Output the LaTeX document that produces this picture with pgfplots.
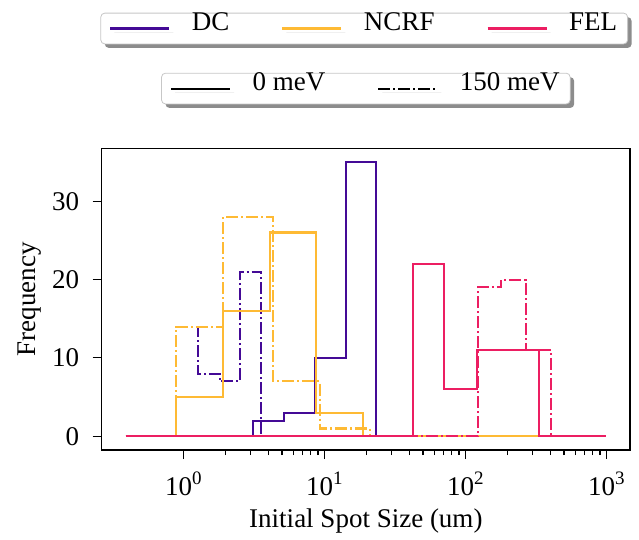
\documentclass[border=0pt]{standalone}
\usepackage{fontspec}
\setmainfont{Liberation Serif}
\usepackage{pgfplots}
\pgfplotsset{compat=1.18}

\definecolor{dccol}{RGB}{68,10,150}
\definecolor{ncrfcol}{RGB}{254,186,52}
\definecolor{felcol}{RGB}{236,30,98}

\newcommand{\dec}[1]{10\raisebox{0.42em}{\fontsize{19}{20}\selectfont #1}}

\pgfplotsset{
  histline/.style={line width=2.1pt, const plot, mark=none},
  dd/.style={dash pattern=on 12pt off 3pt on 2pt off 3pt},
  boxlegend/.style={
    draw=black!22, line width=0.8pt, fill=white, rounded corners=4pt,
    preaction={fill=black!45, draw=none, transform canvas={xshift=4pt, yshift=-4pt}},
    inner xsep=8.5pt, inner ysep=9pt,
    font=\fontsize{27}{32}\selectfont,
    nodes={inner sep=2pt, text height=0.68em, text depth=0.2em},
    /tikz/every odd column/.append style={column sep=19.5pt},
    /tikz/every even column/.append style={column sep=50pt},
  },
  legend image code/.code={\draw[#1] (0pt,0pt) -- (59pt,0pt);},
}

\begin{document}
\begin{tikzpicture}
\begin{axis}[
    at={(0pt,0pt)}, anchor=south west,
    scale only axis,
    width=528.3pt, height=301.7pt,
    xmode=log,
    xmin=0.263, xmax=1470,
    ymin=-1.75, ymax=36.75,
    xtick={1,10,100,1000},
    xticklabels={\dec{0},\dec{1},\dec{2},\dec{3}},
    ytick={0,10,20,30},
    /pgf/number format/assume math mode=true,
    tick align=outside, tick pos=left,
    major tick length=9pt, minor tick length=5pt,
    every tick/.style={black, line width=1.1pt},
    axis line style={line width=1.2pt},
    font=\fontsize{27}{32}\selectfont,
    yticklabel style={xshift=-10pt},
    xticklabel style={yshift=-9pt},
    xlabel={Initial Spot Size (um)},
    ylabel={Frequency},
    every axis x label/.style={at={(axis description cs:0.5,-0.236)}, anchor=center},
    every axis y label/.style={at={(axis description cs:-0.1358,0.5)}, anchor=center, rotate=90},
    legend columns=3,
    legend style={boxlegend, at={(axis description cs:0.4969,1.397)}, anchor=center},
]
\addlegendimage{dccol, line width=2.1pt}
\addlegendentry{DC}
\addlegendimage{ncrfcol, line width=2.1pt}
\addlegendentry{NCRF}
\addlegendimage{felcol, line width=2.1pt}
\addlegendentry{FEL}

% DC
\addplot[histline, dccol, forget plot] coordinates {
  (0.39,0) (3.13,2) (5.18,3) (8.53,10) (14.3,35) (23.3,0) (1000,0)};
\addplot[histline, dccol, dd, forget plot] coordinates {
  (0.39,0) (0.89,14) (1.26,8) (1.81,7) (2.51,21) (3.54,0) (1000,0)};
% NCRF
\addplot[histline, ncrfcol, forget plot] coordinates {
  (0.39,0) (0.89,5) (1.90,16) (4.08,26) (8.77,3) (18.8,0) (1000,0)};
\addplot[histline, ncrfcol, dd, forget plot] coordinates {
  (0.39,0) (0.89,14) (1.92,28) (4.33,7) (9.25,1) (20.9,0) (1000,0)};
% FEL
\addplot[histline, felcol, forget plot] coordinates {
  (0.39,0) (42.3,22) (70.8,6) (120,11) (200,11) (333,0) (1000,0)};
\addplot[histline, felcol, dd, forget plot] coordinates {
  (0.39,0) (122,19) (180,20) (268,11) (403,0) (1000,0)};
\end{axis}

\begin{axis}[
    at={(0pt,0pt)}, anchor=south west,
    scale only axis,
    width=528.3pt, height=301.7pt,
    hide axis,
    xmin=0, xmax=1, ymin=0, ymax=1,
    legend columns=2,
    legend style={boxlegend, at={(axis description cs:0.5,1.198)}, anchor=center},
]
\addlegendimage{black, line width=2.1pt}
\addlegendentry{0 meV}
\addlegendimage{black, line width=2.1pt, dash pattern=on 12pt off 3pt on 2pt off 3pt}
\addlegendentry{150 meV}
\end{axis}
\pgfresetboundingbox
\useasboundingbox (-101.7pt,-89pt) rectangle (537.3pt,450pt);
\end{tikzpicture}
\end{document}
